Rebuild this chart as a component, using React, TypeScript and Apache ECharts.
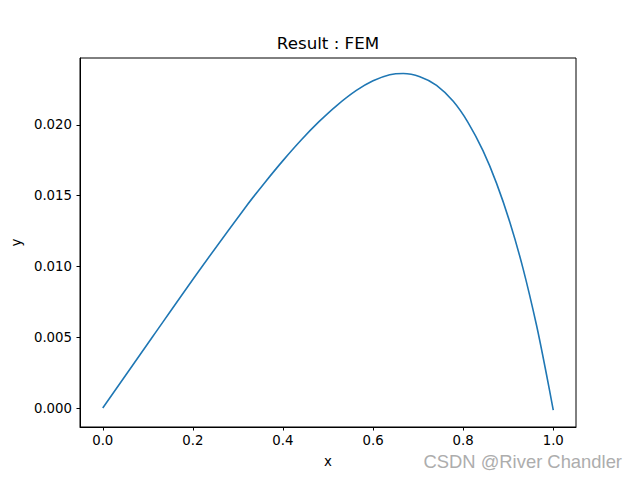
import React, { useEffect, useRef } from "react";
import * as echarts from "echarts";

const xValues = [0, 0.111, 0.215, 0.319, 0.36, 0.4, 0.44, 0.48, 0.52, 0.563, 0.6, 0.637, 0.667, 0.704, 0.741, 0.778, 0.811, 0.844, 0.874, 0.904, 0.933, 0.963, 0.985, 1.0];
const yValues = [0, 0.00505, 0.00975, 0.01428, 0.01594, 0.01748, 0.01892, 0.02023, 0.02139, 0.02244, 0.02312, 0.02355, 0.02364, 0.02341, 0.0228, 0.02167, 0.02017, 0.01818, 0.01589, 0.01309, 0.00985, 0.00583, 0.00237, -0.00015];
const xTicks = [0, 0.2, 0.4, 0.6, 0.8, 1.0];
const yTicks = [0, 0.005, 0.01, 0.015, 0.02];

const FONT = "DejaVu Sans";

export default function App() {
  const ref = useRef<HTMLDivElement>(null);
  useEffect(() => {
    if (!ref.current) return;
    const chart = echarts.init(ref.current, null, { renderer: "svg" });
    const data = xValues.map((x, i) => [x, yValues[i]]);
    chart.setOption({
      animation: false,
      backgroundColor: "#ffffff",
      grid: {
        left: 80,
        right: 64,
        top: 58,
        bottom: 53,
        show: true,
        borderColor: "#000000",
        borderWidth: 1,
        backgroundColor: "#ffffff",
      },
      xAxis: {
        type: "value",
        min: -0.0505,
        max: 1.0505,
        splitLine: { show: false },
        axisLine: { show: true, onZero: false, lineStyle: { color: "#000", width: 1 } },
        axisTick: { show: true, customValues: xTicks, length: 3.5, lineStyle: { color: "#000" } },
        axisLabel: {
          customValues: xTicks,
          formatter: (v: number) => v.toFixed(1),
          color: "#000",
          fontFamily: FONT,
          fontSize: 13.3,
          margin: 7,
        },
        name: "x",
        nameLocation: "middle",
        nameGap: 28,
        nameTextStyle: { color: "#000", fontFamily: FONT, fontSize: 13.3 },
      },
      yAxis: {
        type: "value",
        min: -0.00134,
        max: 0.02473,
        splitLine: { show: false },
        axisLine: { show: true, onZero: false, lineStyle: { color: "#000", width: 1 } },
        axisTick: { show: true, customValues: yTicks, length: 3.5, lineStyle: { color: "#000" } },
        axisLabel: {
          customValues: yTicks,
          formatter: (v: number) => v.toFixed(3),
          color: "#000",
          fontFamily: FONT,
          fontSize: 13.3,
          margin: 8,
        },
        name: "y",
        nameLocation: "middle",
        nameGap: 56,
        nameTextStyle: { color: "#000", fontFamily: FONT, fontSize: 13.3 },
      },
      series: [
        {
          type: "line",
          data,
          smooth: 0.3,
          showSymbol: false,
          symbol: "none",
          lineStyle: { color: "#1f77b4", width: 1.6 },
        },
      ],
      graphic: [
        {
          type: "text",
          x: 328,
          y: 43,
          style: {
            text: "Result : FEM",
            fill: "#000",
            font: `16.7px "${FONT}"`,
            textAlign: "center",
            textVerticalAlign: "middle",
          },
        },
        {
          type: "text",
          x: 622,
          y: 461,
          style: {
            text: "CSDN @River Chandler",
            fill: "#adadad",
            font: '18.4px "Liberation Sans"',
            textAlign: "right",
            textVerticalAlign: "middle",
          },
        },
      ],
    });
    return () => chart.dispose();
  }, []);
  return (
    <div
      ref={ref}
      style={{ position: "fixed", left: 0, top: 0, width: 640, height: 480, background: "#fff" }}
    />
  );
}
